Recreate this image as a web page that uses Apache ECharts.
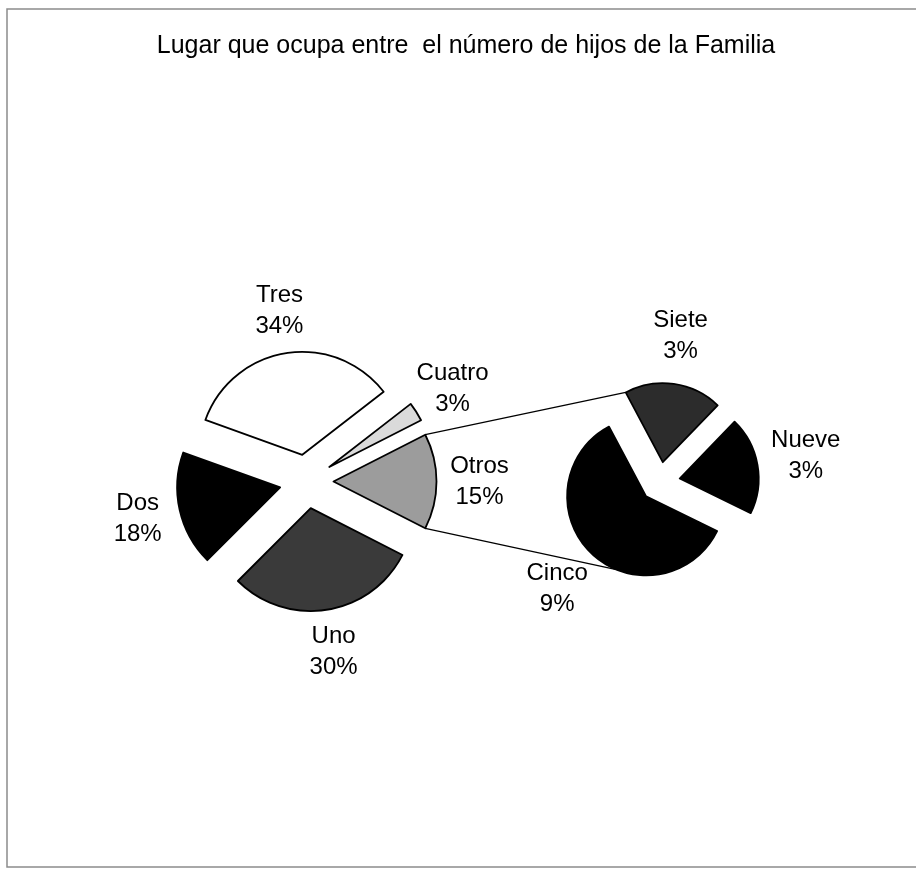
<!DOCTYPE html>
<html>
<head>
<meta charset="utf-8">
<script src="https://cdn.jsdelivr.net/npm/echarts@6/dist/echarts.min.js"></script>
<style>
  html, body { margin: 0; padding: 0; background: #ffffff; }
  #chart { width: 916px; height: 874px; }
</style>
</head>
<body>
<div id="chart"></div>
<script>
// Main pie: the "Otros" slice is broken out into the secondary pie.
const mainNames = ['Otros', 'Cuatro', 'Tres', 'Dos', 'Uno'];
const mainValues = [15, 3, 34, 18, 30];
const mainColors = ['#9c9c9c', '#dadada', '#ffffff', '#000000', '#3a3a3a'];

// Secondary pie: breakdown of "Otros".
const subNames = ['Siete', 'Nueve', 'Cinco'];
const subValues = [3, 3, 9];
const subColors = ['#2c2c2c', '#000000', '#000000'];

const titleText = 'Lugar que ocupa entre  el número de hijos de la Familia';

const FONT = "'Liberation Sans', Arial, Helvetica, sans-serif";

// Layout of the two pies (pixels / degrees).
const mainLayout = { cx: 306.5, cy: 481.5, r: 103, offset: 27, labelR: 170 };
const subLayout = { cx: 660, cy: 482, r: 79, offset: 20, labelR: 145, startAngle: 118, bottomAttach: 248 };

const RAD = Math.PI / 180;
const sum = arr => arr.reduce((a, b) => a + b, 0);

// "Otros" is centred on 3 o'clock; the rest follow counter-clockwise.
const mainTotal = sum(mainValues);
const mainStart = -mainValues[0] / mainTotal * 180;

// Angular span of each slice (degrees), walking in the given direction.
function sliceAngles(values, start, clockwise) {
  const total = sum(values);
  const dir = clockwise ? -1 : 1;
  let a = start;
  return values.map(v => {
    const span = v / total * 360;
    const s = a;
    a += dir * span;
    return { start: s, end: a, mid: s + dir * span / 2 };
  });
}

function polar(cx, cy, r, deg) {
  return [cx + r * Math.cos(deg * RAD), cy - r * Math.sin(deg * RAD)];
}

// Connector lines from the edges of "Otros" to the secondary pie.
const mainAngles = sliceAngles(mainValues, mainStart, false);
const subAngles = sliceAngles(subValues, subLayout.startAngle, true);

const otros = mainAngles[0];
const otrosTip = polar(mainLayout.cx, mainLayout.cy, mainLayout.offset, otros.mid);
const leftTop = polar(otrosTip[0], otrosTip[1], mainLayout.r, otros.end);
const leftBottom = polar(otrosTip[0], otrosTip[1], mainLayout.r, otros.start);

const firstSub = subAngles[0];
const firstTip = polar(subLayout.cx, subLayout.cy, subLayout.offset, firstSub.mid);
const rightTop = polar(firstTip[0], firstTip[1], subLayout.r, firstSub.start);

const lastSub = subAngles[subAngles.length - 1];
const lastTip = polar(subLayout.cx, subLayout.cy, subLayout.offset, lastSub.mid);
const rightBottom = polar(lastTip[0], lastTip[1], subLayout.r, subLayout.bottomAttach);

const sliceBorder = { borderColor: '#000000', borderWidth: 1.8 };

function piePieces(names, values, colors) {
  return names.map((n, i) => ({
    name: n,
    value: values[i],
    selected: true,
    itemStyle: { color: colors[i] }
  }));
}

function labelRing(names, values) {
  return names.map((n, i) => ({ name: n, value: values[i] }));
}

const labelStyle = {
  show: true,
  position: 'inside',
  formatter: '{b}\n{c}%',
  fontFamily: FONT,
  fontSize: 24,
  lineHeight: 31,
  color: '#000000',
  textBorderWidth: 0,
  rotate: 0,
  overflow: 'none'
};

const chart = echarts.init(document.getElementById('chart'), null, { renderer: 'canvas' });

chart.setOption({
  backgroundColor: '#ffffff',
  animation: false,
  title: {
    text: titleText,
    left: 466,
    top: 34,
    textAlign: 'center',
    padding: 0,
    textStyle: { fontFamily: FONT, fontSize: 25, fontWeight: 'normal', color: '#000000' }
  },
  graphic: [
    {
      type: 'rect',
      z: 0,
      shape: { x: 7, y: 9, width: 940, height: 858 },
      style: { fill: 'none', stroke: '#8c8c8c', lineWidth: 1.5 }
    },
    {
      type: 'line',
      z: 0,
      shape: { x1: leftTop[0], y1: leftTop[1], x2: rightTop[0], y2: rightTop[1] },
      style: { stroke: '#000000', lineWidth: 1.3 }
    },
    {
      type: 'line',
      z: 0,
      shape: { x1: leftBottom[0], y1: leftBottom[1], x2: rightBottom[0], y2: rightBottom[1] },
      style: { stroke: '#000000', lineWidth: 1.3 }
    }
  ],
  series: [
    {
      type: 'pie',
      name: 'principal',
      center: [mainLayout.cx, mainLayout.cy],
      radius: mainLayout.r,
      startAngle: mainStart,
      clockwise: false,
      selectedMode: 'multiple',
      selectedOffset: mainLayout.offset,
      avoidLabelOverlap: false,
      label: { show: false },
      labelLine: { show: false },
      itemStyle: sliceBorder,
      select: { itemStyle: sliceBorder },
      emphasis: { disabled: true },
      data: piePieces(mainNames, mainValues, mainColors)
    },
    {
      type: 'pie',
      name: 'secundario',
      center: [subLayout.cx, subLayout.cy],
      radius: subLayout.r,
      startAngle: subLayout.startAngle,
      clockwise: true,
      selectedMode: 'multiple',
      selectedOffset: subLayout.offset,
      avoidLabelOverlap: false,
      label: { show: false },
      labelLine: { show: false },
      itemStyle: sliceBorder,
      select: { itemStyle: sliceBorder },
      emphasis: { disabled: true },
      data: piePieces(subNames, subValues, subColors)
    },
    {
      type: 'pie',
      name: 'etiquetas principal',
      silent: true,
      center: [mainLayout.cx, mainLayout.cy],
      radius: [mainLayout.labelR - 1, mainLayout.labelR + 1],
      startAngle: mainStart,
      clockwise: false,
      avoidLabelOverlap: false,
      itemStyle: { color: 'rgba(0,0,0,0)', borderWidth: 0 },
      label: labelStyle,
      labelLine: { show: false },
      emphasis: { disabled: true },
      data: labelRing(mainNames, mainValues)
    },
    {
      type: 'pie',
      name: 'etiquetas secundario',
      silent: true,
      center: [subLayout.cx, subLayout.cy],
      radius: [subLayout.labelR - 1, subLayout.labelR + 1],
      startAngle: subLayout.startAngle,
      clockwise: true,
      avoidLabelOverlap: false,
      itemStyle: { color: 'rgba(0,0,0,0)', borderWidth: 0 },
      label: labelStyle,
      labelLine: { show: false },
      emphasis: { disabled: true },
      data: labelRing(subNames, subValues)
    }
  ]
});
</script>
</body>
</html>
